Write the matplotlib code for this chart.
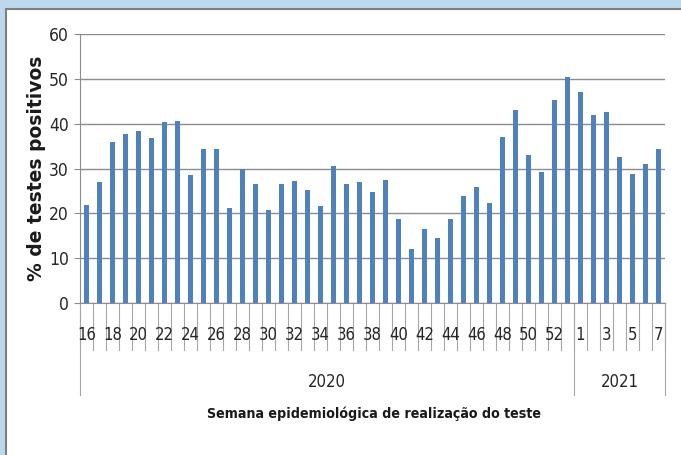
import matplotlib.pyplot as plt
from matplotlib.patches import Rectangle

# weekly % positive tests
weeks_2020 = list(range(16, 54))
vals_2020 = [21.9, 27.0, 35.8, 37.8, 38.3, 36.7, 40.3, 40.7, 28.5, 34.3,
             34.3, 21.2, 29.8, 26.5, 20.7, 26.5, 27.2, 25.2, 21.7, 30.5,
             26.5, 27.0, 24.7, 27.5, 18.7, 12.1, 16.6, 14.4, 18.7, 23.9,
             25.9, 22.2, 37.0, 43.0, 33.0, 29.3, 45.3, 50.4]
weeks_2021 = list(range(1, 8))
vals_2021 = [47.0, 42.0, 42.7, 32.5, 28.8, 31.0, 34.3]
years = ["2020", "2021"]

narrow = dict(family=["Liberation Sans Narrow", "DejaVu Sans"], stretch="condensed")

weeks = weeks_2020 + weeks_2021
vals = vals_2020 + vals_2021
x = list(range(len(vals)))

fig = plt.figure(figsize=(6.81, 4.55), dpi=100)
fig.patch.set_facecolor("#BDD7EE")
# white panel
fig.patches.append(Rectangle((6 / 681, -0.01), 1, 1.01 - 9 / 455, transform=fig.transFigure,
                             facecolor="white", edgecolor="#7F7F7F", linewidth=1.5,
                             zorder=-5))

ax = fig.add_axes([80 / 681, 1 - 303 / 455, 585 / 681, 269 / 455])
ax.patch.set_alpha(0)
ax.bar(x, vals, width=0.43, color="#4F81BD", zorder=3)

ax.set_xlim(-0.5, len(vals) - 0.5)
ax.set_ylim(0, 60)
ax.set_yticks(range(0, 61, 10))
ax.yaxis.grid(True, color="#8C8C8C", linewidth=1)
ax.set_axisbelow(True)
ax.tick_params(axis="y", length=4, color="#8C8C8C", labelsize=12.5, pad=4)
for lab in ax.get_yticklabels():
    lab.set_family(narrow["family"])
    lab.set_stretch("condensed")
    lab.set_color("#262626")
ax.set_xticks([])
for s in ["top", "right"]:
    ax.spines[s].set_visible(False)
ax.spines["left"].set_color("#8C8C8C")
ax.spines["bottom"].set_color("#8C8C8C")

tr = ax.get_xaxis_transform()
h = 269.0
# category dividers and week labels
for i in range(len(vals) + 1):
    ax.plot([i - 0.5, i - 0.5], [0, -47 / h], transform=tr, color="#A6A6A6",
            linewidth=0.8, clip_on=False)
for i, w in enumerate(weeks):
    if (w % 2 == 0 and i < len(weeks_2020)) or (w % 2 == 1 and i >= len(weeks_2020)):
        ax.text(i, -32 / h, str(w), transform=tr, ha="center", va="center",
                fontsize=12, color="#262626", **narrow)

# year group dividers and labels
n20 = len(weeks_2020)
for xb in [-0.5, n20 - 0.5, len(vals) - 0.5]:
    ax.plot([xb, xb], [0, -92 / h], transform=tr, color="#A6A6A6",
            linewidth=0.8, clip_on=False)
ax.text((n20 - 1) / 2, -79 / h, years[0], transform=tr, ha="center", va="center",
        fontsize=12, color="#262626", **narrow)
ax.text(n20 + (len(weeks_2021) - 1) / 2, -79 / h, years[1], transform=tr,
        ha="center", va="center", fontsize=12, color="#262626", **narrow)

fig.text(374 / 681, 1 - 414 / 455, "Semana epidemiológica de realização do teste",
         ha="center", va="center", fontsize=10.2, fontweight="bold",
         color="#1a1a1a", **narrow)
fig.text(37 / 681, 1 - 168 / 455, "% de testes positivos", rotation=90,
         ha="center", va="center", fontsize=13.5, fontweight="bold",
         family="DejaVu Sans", color="#1a1a1a")

fig.savefig("out.png", dpi=100, facecolor=fig.get_facecolor())
